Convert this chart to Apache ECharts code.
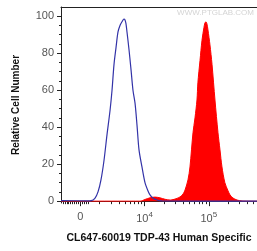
<!DOCTYPE html>
<html>
<head>
<meta charset="utf-8">
<script src="https://cdn.jsdelivr.net/npm/echarts@6/dist/echarts.min.js"></script>
<style>
  html, body { margin: 0; padding: 0; background: #fff; }
  #chart { width: 257px; height: 251px; }
</style>
</head>
<body>
<div id="chart"></div>
<script>
// x is the display position on the biexponential axis: 3 = "0", 4 = 10^4, 5 = 10^5
const blueX = [2.7, 3.1, 3.17, 3.23, 3.276, 3.322, 3.369, 3.416, 3.463, 3.494, 3.525, 3.556, 3.587, 3.618, 3.649, 3.68, 3.696, 3.711, 3.727, 3.758, 3.79, 3.82, 3.852, 3.883, 3.914, 3.96, 4.007, 4.054, 4.085, 4.13, 4.194, 4.27, 5.75];
const blueY = [0.3, 0.2, 0.3, 1.7, 5, 11.5, 22, 36, 49, 60, 74, 83, 91.5, 95, 97, 98.5, 98, 96, 91.5, 82, 71, 60, 53, 41, 27.7, 18.5, 10, 5.5, 3.4, 1.7, 0.6, 0.1, 0];
const redX = [2.7, 3.93, 4.007, 4.085, 4.163, 4.24, 4.32, 4.4, 4.427, 4.49, 4.553, 4.6, 4.63, 4.676, 4.707, 4.754, 4.785, 4.816, 4.83, 4.863, 4.894, 4.925, 4.94, 4.956, 4.97, 4.987, 5.018, 5.05, 5.096, 5.143, 5.174, 5.205, 5.25, 5.3, 5.33, 5.376, 5.44, 5.517, 5.75];
const redY = [0, 0, 0.9, 1.8, 2.2, 1.8, 1.0, 0.6, 0.7, 1.3, 2.3, 3.9, 6, 11.5, 18.5, 37, 45, 54.7, 64, 76, 87, 94, 96.4, 97, 96, 92.6, 84.5, 74, 54.7, 37, 27.7, 18.5, 10, 5.5, 3.4, 1.7, 0.6, 0.1, 0];
const yLabels = [0, 20, 40, 60, 80, 100];
const yMinor = [5, 10, 15, 25, 30, 35, 45, 50, 55, 65, 70, 75, 85, 90, 95];
const xMajor = [3, 4, 5];
const xMajorText = { 3: "0", 4: "10{s|4}", 5: "10{s|5}" };

// minor ticks: dense linear part around zero, then log steps per decade
const xMinor = [2.73, 2.76, 2.79, 2.82, 2.85, 2.88, 2.91, 2.94, 2.97, 3.03, 3.06, 3.09, 3.12];
[3, 4, 5].forEach(function (d) {
  for (let k = 2; k <= 9; k++) {
    const v = d + Math.log10(k);
    if (v < 5.75) xMinor.push(v);
  }
});

const chart = echarts.init(document.getElementById("chart"));
const font = "Liberation Sans";

const option = {
  animation: false,
  grid: { left: 61, right: 0, top: 7, bottom: 48 },
  xAxis: [
    {
      type: "value",
      min: 2.7,
      max: 5.75,
      name: "CL647-60019 TDP-43 Human Specific",
      nameLocation: "middle",
      nameGap: 30,
      nameTextStyle: { fontFamily: font, fontWeight: "bold", fontSize: 10.5, color: "#111" },
      axisLine: { lineStyle: { color: "#222", width: 1 } },
      axisTick: { customValues: xMajor, length: 5, lineStyle: { color: "#222" } },
      axisLabel: {
        customValues: xMajor,
        margin: 8,
        fontFamily: font,
        fontSize: 11,
        color: "#555",
        formatter: function (v) { return xMajorText[Math.round(v)]; },
        rich: { s: { fontFamily: font, fontSize: 8, color: "#555", verticalAlign: "top", padding: [0, 0, 8, 0] } }
      },
      splitLine: { show: false }
    },
    {
      type: "value",
      min: 2.7,
      max: 5.75,
      position: "bottom",
      axisLine: { show: false },
      axisTick: { customValues: xMinor, length: 3, lineStyle: { color: "#222" } },
      axisLabel: { show: false },
      splitLine: { show: false }
    },
    {
      type: "value",
      min: 2.7,
      max: 5.75,
      position: "top",
      axisLine: { lineStyle: { color: "#222", width: 1 } },
      axisTick: { show: false },
      axisLabel: { show: false },
      splitLine: { show: false }
    }
  ],
  yAxis: [
    {
      type: "value",
      min: -1,
      max: 105,
      name: "Relative Cell Number",
      nameLocation: "middle",
      nameGap: 40,
      nameTextStyle: { fontFamily: font, fontWeight: "bold", fontSize: 10, color: "#111" },
      axisLine: { show: true, lineStyle: { color: "#222", width: 1 } },
      axisTick: { show: true, customValues: yLabels, length: 4, lineStyle: { color: "#222" } },
      axisLabel: { customValues: yLabels, margin: 7, fontFamily: font, fontSize: 11, color: "#555" },
      splitLine: { show: false }
    },
    {
      type: "value",
      min: -1,
      max: 105,
      position: "left",
      axisLine: { show: false },
      axisTick: { show: true, customValues: yMinor, length: 2, lineStyle: { color: "#222" } },
      axisLabel: { show: false },
      splitLine: { show: false }
    }
  ],
  graphic: [
    {
      type: "text",
      right: 3,
      top: 9,
      style: { text: "WWW.PTGLAB.COM", fontFamily: font, fontSize: 8, fill: "#d4d4d4" }
    }
  ],
  series: [
    {
      name: "Stained",
      type: "line",
      symbol: "none",
      smooth: 0.3,
      data: redX.map(function (x, i) { return [x, redY[i]]; }),
      lineStyle: { color: "#ff0000", width: 1 },
      areaStyle: { color: "#ff0000", opacity: 1 },
      z: 2
    },
    {
      name: "Control",
      type: "line",
      symbol: "none",
      smooth: 0.3,
      data: blueX.map(function (x, i) { return [x, blueY[i]]; }),
      lineStyle: { color: "#3333a8", width: 1.2 },
      z: 3
    }
  ]
};
chart.setOption(option);
</script>
</body>
</html>
